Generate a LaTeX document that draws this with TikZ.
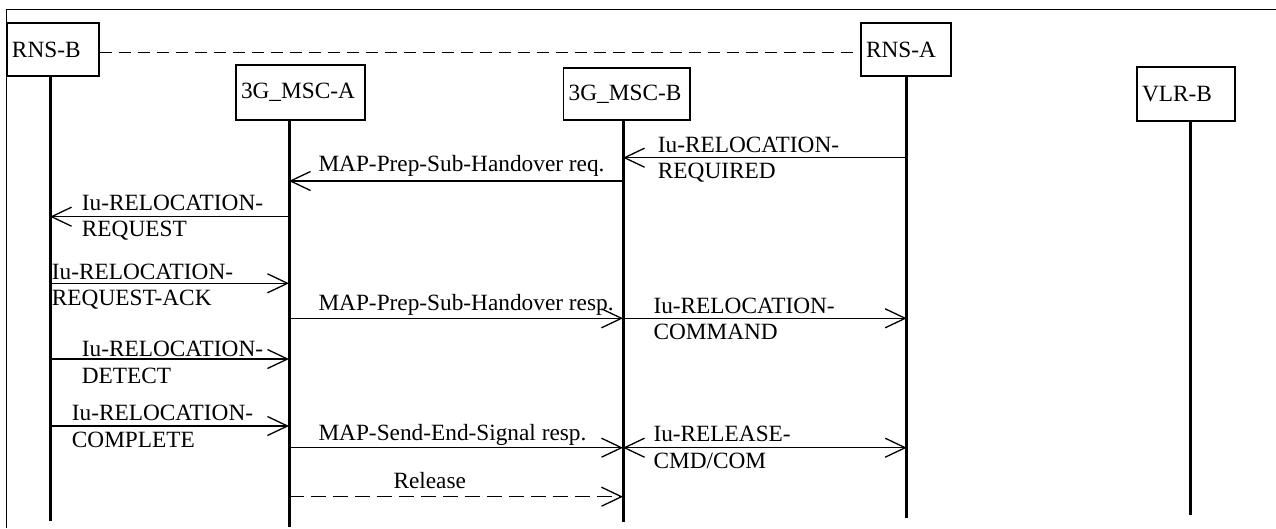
\documentclass[tikz,border=0pt]{standalone}
\usepackage{fontspec}
\setmainfont{Liberation Serif}
\usetikzlibrary{arrows.meta}
\begin{document}
\begin{tikzpicture}[x=1pt,y=-1pt,
  font=\fontsize{23.3}{26.5}\selectfont,
  box/.style={draw, line width=1.3pt, inner xsep=5pt, inner ysep=0pt, align=left},
  life/.style={line width=3pt},
  msg/.style={line width=1.3pt, -{Straight Barb[length=20pt,width=19pt]}},
  dmsg/.style={line width=1.3pt, {Straight Barb[length=20pt,width=19pt]}-{Straight Barb[length=20pt,width=19pt]}},
  relmsg/.style={msg, dash pattern=on 15pt off 7pt},
  topdash/.style={line width=1.2pt, dash pattern=on 12pt off 7pt},
  lbl/.style={inner sep=0pt, anchor=base west, align=left},
  frame/.style={line width=1pt}
]
\useasboundingbox (0,0) rectangle (1276,528);
\draw[frame] (6,528) -- (6,9) -- (1276,9);

% entity boxes
\node[box, text width=82pt, minimum height=53pt] (rnsb) at (53,49.5) {RNS-B};
\node[box, text width=119pt, minimum height=55pt] (msca) at (300.5,92.5) {3G\_MSC-A};
\node[box, text width=116.3pt, minimum height=52pt] (mscb) at (626.85,94) {3G\_MSC-B};
\node[box, text width=80pt, minimum height=53pt] (rnsa) at (906,49.5) {RNS-A};
\node[box, text width=88pt, minimum height=54pt] (vlrb) at (1186,94) {VLR-B};

% lifeline ends
\coordinate (Lrnsb) at (50,521);
\coordinate (Lmsca) at (289,527);
\coordinate (Lmscb) at (623,522);
\coordinate (Lrnsa) at (906.7,518);
\coordinate (Lvlrb) at (1190,515);
\draw[life] (rnsb.south -| Lrnsb) -- (Lrnsb);
\draw[life] (msca.south -| Lmsca) -- (Lmsca);
\draw[life] (mscb.south -| Lmscb) -- (Lmscb);
\draw[life] (rnsa.south -| Lrnsa) -- (Lrnsa);
\draw[life] (vlrb.south -| Lvlrb) -- (Lvlrb);

% dashed link between RNS-B and RNS-A
\coordinate (y0) at (0,52.7);
\draw[topdash] (rnsb.east |- y0) -- (rnsa.west |- y0);

% message levels
\coordinate (y1) at (0,157.7);
\coordinate (y2) at (0,181);
\coordinate (y3) at (0,216.7);
\coordinate (y4) at (0,283.3);
\coordinate (y5) at (0,318.3);
\coordinate (y6) at (0,359);
\coordinate (y7) at (0,426);
\coordinate (y8) at (0,447.7);
\coordinate (y9) at (0,496.7);

\draw[msg] (Lrnsa |- y1) -- (Lmscb |- y1);
\draw[msg] (Lmscb |- y2) -- (Lmsca |- y2);
\draw[msg] (Lmsca |- y3) -- (Lrnsb |- y3);
\draw[msg] (Lrnsb |- y4) -- (Lmsca |- y4);
\draw[msg] (Lmsca |- y5) -- (Lmscb |- y5);
\draw[msg] (Lmscb |- y5) -- (Lrnsa |- y5);
\draw[msg] (Lrnsb |- y6) -- (Lmsca |- y6);
\draw[msg] (Lrnsb |- y7) -- (Lmsca |- y7);
\draw[msg] (Lmsca |- y8) -- (Lmscb |- y8);
\draw[dmsg] (Lmscb |- y8) -- (Lrnsa |- y8);
\draw[relmsg] (Lmsca |- y9) -- (Lmscb |- y9);

% labels (two-line labels are placed by the baseline of their last line)
\node[lbl] (t1) at (657.7,178.8) {Iu-RELOCATION-\\REQUIRED};
\node[lbl] (t2) at (318.3,171.7) {MAP-Prep-Sub-Handover req.};
\node[lbl] (t3) at (81.7,236.7) {Iu-RELOCATION-\\REQUEST};
\node[lbl] (t4) at (51.7,305.5) {Iu-RELOCATION-\\REQUEST-ACK};
\node[lbl] (t5) at (318.3,310) {MAP-Prep-Sub-Handover resp.};
\node[lbl] (t6) at (653.3,339.5) {Iu-RELOCATION-\\COMMAND};
\node[lbl] (t7) at (81.7,383.3) {Iu-RELOCATION-\\DETECT};
\node[lbl] (t8) at (71.7,447) {Iu-RELOCATION-\\COMPLETE};
\node[lbl] (t9) at (318.3,440) {MAP-Send-End-Signal resp.};
\node[lbl] (t10) at (653.3,468.3) {Iu-RELEASE-\\CMD/COM};
\node[lbl] (t11) at (393.3,488.3) {Release};
\end{tikzpicture}
\end{document}
